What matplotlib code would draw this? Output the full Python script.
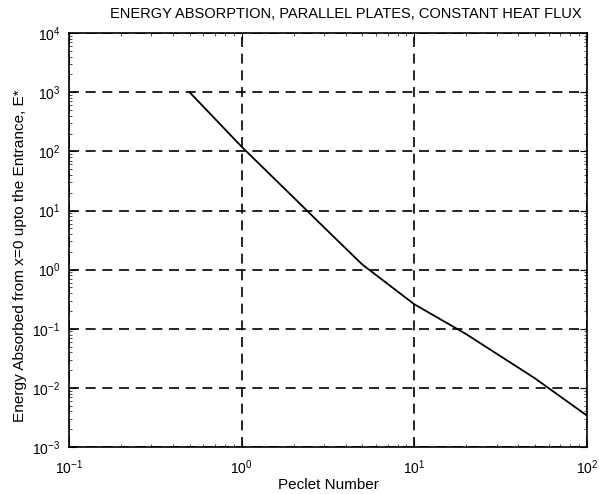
import matplotlib.pyplot as plt
from matplotlib.ticker import LogLocator, NullFormatter

plt.rcParams['font.family'] = ['Liberation Sans', 'DejaVu Sans']

# Peclet number and absorbed energy
peclet = [0.5, 1.0, 2.0, 3.0, 5.0, 10.0, 20.0, 50.0, 100.0]
energy = [1000.0, 120.0, 16.6, 5.2, 1.22, 0.26, 0.081, 0.0145, 0.0034]

fig = plt.figure(figsize=(5.99, 4.94), dpi=100)
ax = fig.add_axes([0.115, 0.095, 0.865, 0.838])

ax.loglog(peclet, energy, color="black", linewidth=1.3)

ax.set_xlim(0.1, 100)
ax.set_ylim(1e-3, 1e4)

ax.xaxis.set_major_locator(LogLocator(base=10, numticks=10))
ax.yaxis.set_major_locator(LogLocator(base=10, numticks=10))
ax.xaxis.set_minor_formatter(NullFormatter())
ax.yaxis.set_minor_formatter(NullFormatter())

ax.grid(True, which="major", color="black", linestyle=(0, (6, 4)), linewidth=1.2)
ax.tick_params(which="both", direction="in", top=True, right=True, labelsize=10)
ax.tick_params(which="major", length=5)
ax.tick_params(axis="x", which="major", pad=8)
ax.tick_params(axis="y", which="major", pad=6)
ax.tick_params(which="minor", length=2, width=0.5)
for spine in ax.spines.values():
    spine.set_linewidth(1.2)

ax.set_title("ENERGY ABSORPTION, PARALLEL PLATES, CONSTANT HEAT FLUX",
             fontsize=10.5, pad=11, x=0.535)
ax.set_xlabel("Peclet Number", fontsize=11, labelpad=1)
ax.set_ylabel("Energy Absorbed from x=0 upto the Entrance, E*", fontsize=11.1)
ax.yaxis.set_label_coords(-0.08, 0.462)

fig.savefig("out.png", dpi=100)
